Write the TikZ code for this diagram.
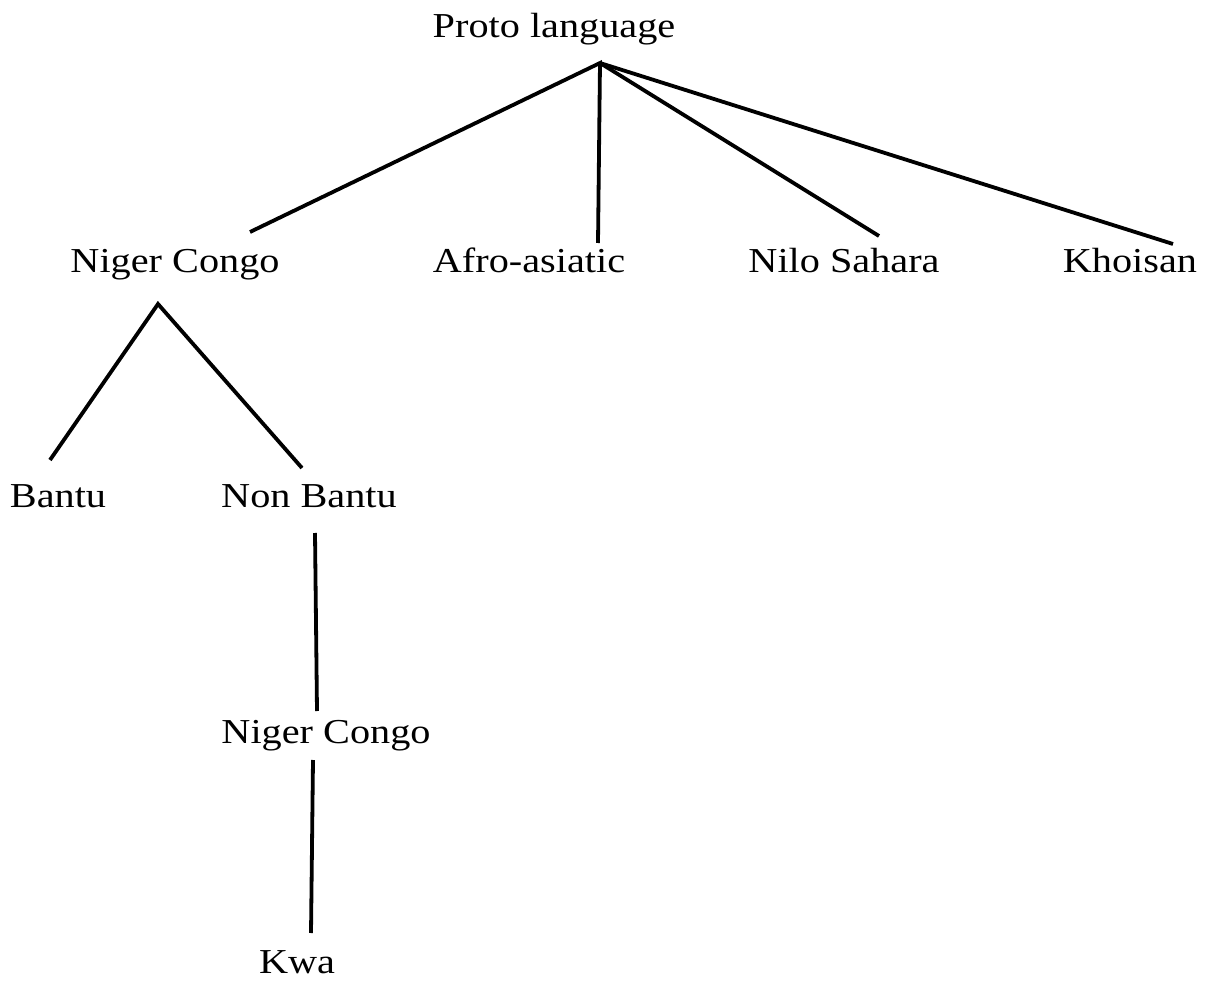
\documentclass[tikz,border=0pt]{standalone}
\usepackage{fontspec}
\setmainfont[FakeStretch=1.15]{Liberation Serif}
\begin{document}
\begin{tikzpicture}[x=1pt,y=-1pt,
  lbl/.style={anchor=base,inner sep=0pt,font=\fontsize{35}{42}\selectfont},
  link/.style={line width=3.8pt}]
\useasboundingbox (0,0) rectangle (1213,981);
\node[lbl] (proto) at (554,38) {Proto language};
\node[lbl] (nc) at (175,273) {Niger Congo};
\node[lbl] (afro) at (529,273) {Afro-asiatic};
\node[lbl] (nilo) at (844,273) {Nilo Sahara};
\node[lbl] (khoi) at (1130,273) {Khoisan};
\node[lbl] (bantu) at (58,507) {Bantu};
\node[lbl] (nonb) at (309,507) {Non Bantu};
\node[lbl] (nc2) at (326,743) {Niger Congo};
\node[lbl] (kwa) at (297,973) {Kwa};
% connector ends
\coordinate (pT) at (600,63);
\coordinate (ncT) at (250,232);
\coordinate (afT) at (598,243);
\coordinate (niT) at (879,236);
\coordinate (khT) at (1173,244);
\coordinate (ncB) at (158,304);
\coordinate (baT) at (50,460);
\coordinate (nbT) at (302,468);
\coordinate (nbB) at (315,533);
\coordinate (nc2T) at (317,711);
\coordinate (nc2B) at (313,760);
\coordinate (kwT) at (311,933);
\draw[link] (ncT) -- (pT) -- (afT);
\draw[link] (pT) -- (niT);
\draw[link] (pT) -- (khT);
\draw[link] (baT) -- (ncB) -- (nbT);
\draw[link] (nbB) -- (nc2T);
\draw[link] (nc2B) -- (kwT);
\end{tikzpicture}
\end{document}
